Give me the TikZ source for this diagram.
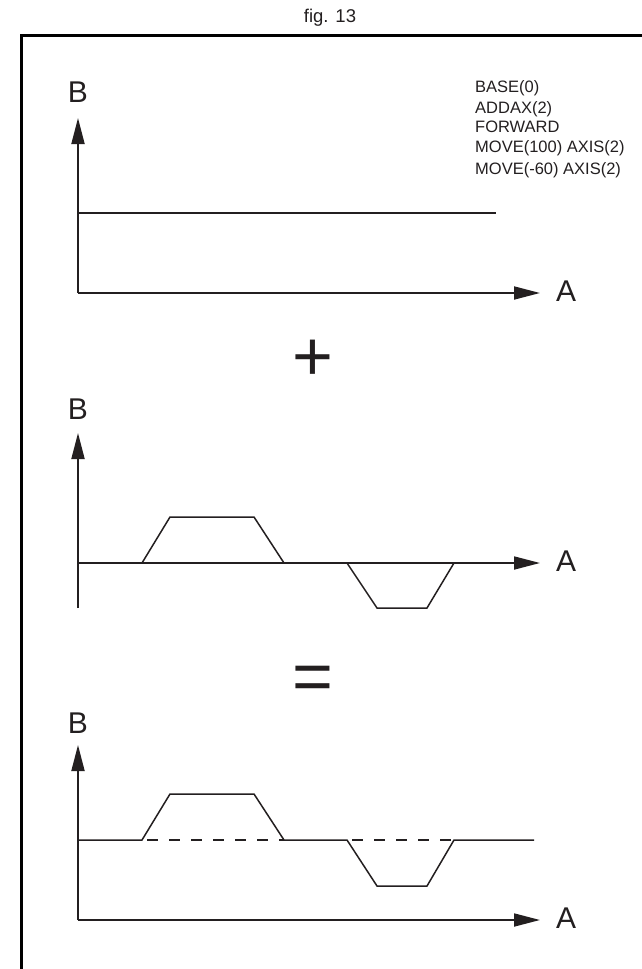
\documentclass[tikz,border=0pt]{standalone}
\usepackage{fontspec}
\setmainfont{Liberation Sans}
\usetikzlibrary{arrows.meta}
\definecolor{ink}{RGB}{35,31,32}
\begin{document}
\begin{tikzpicture}[x=1pt,y=-1pt,
  every node/.style={inner sep=0pt, text=ink},
  axisline/.style={draw=ink, line width=1.8pt, -{Triangle[length=26pt,width=13pt]}},
  curve/.style={draw=ink, line width=1.5pt, line join=miter},
  dashline/.style={draw=ink, line width=1.5pt, dash pattern=on 11pt off 11pt, dash phase=-5pt},
  axlabel/.style={font=\fontsize{30}{30}\selectfont},
  cmdtext/.style={font=\fontsize{16.5}{20}\selectfont, anchor=base west},
  opsign/.style={font=\fontsize{70}{70}\selectfont},
  frameline/.style={draw=black, line width=3pt}]
\useasboundingbox (0,0) rectangle (641,969);

% title and frame
\node (title) at (330,18) {\fontsize{18.5}{18.5}\selectfont fig. 13};
\coordinate (fbl) at (21,975);
\coordinate (ftl) at (21,35);
\coordinate (ftr) at (650,35);
\draw[frameline] (fbl) -- (ftl) -- (ftr);

% ---------- top plot ----------
\coordinate (o1) at (78,293);
\coordinate (y1) at (78,118);
\coordinate (x1) at (540,293);
\draw[axisline] (o1) -- (y1);
\draw[axisline] (o1) -- (x1);
\node[axlabel] (B1) at (78,92) {B};
\node[axlabel] (A1) at (566,291) {A};
\coordinate (h1s) at (78,213);
\coordinate (h1e) at (496,213);
\draw[curve] (h1s) -- (h1e);

\node[cmdtext] (c1) at (475,92) {BASE(0)};
\node[cmdtext] (c2) at (475,113) {ADDAX(2)};
\node[cmdtext] (c3) at (475,132) {FORWARD};
\node[cmdtext] (c4) at (475,152) {MOVE(100) AXIS(2)};
\node[cmdtext] (c5) at (475,174) {MOVE(-60) AXIS(2)};

% plus
\node[opsign] (plus) at (313,360) {+};

% ---------- middle plot ----------
\coordinate (o2) at (78,563);
\coordinate (y2b) at (78,608);
\coordinate (y2) at (78,433);
\coordinate (x2) at (540,563);
\draw[axisline] (y2b) -- (y2);
\draw[axisline] (o2) -- (x2);
\node[axlabel] (B2) at (78,409) {B};
\node[axlabel] (A2) at (566,561) {A};
\coordinate (p1) at (142,563);
\coordinate (p2) at (170,517);
\coordinate (p3) at (254,517);
\coordinate (p4) at (284,563);
\coordinate (q1) at (347,563);
\coordinate (q2) at (377,608);
\coordinate (q3) at (427,608);
\coordinate (q4) at (454,563);
\draw[curve] (p1) -- (p2) -- (p3) -- (p4);
\draw[curve] (q1) -- (q2) -- (q3) -- (q4);

% equals
\node[opsign] (eq) at (313,683) {=};

% ---------- bottom plot ----------
\coordinate (o3) at (78,920);
\coordinate (y3) at (78,745);
\coordinate (x3) at (540,920);
\draw[axisline] (o3) -- (y3);
\draw[axisline] (o3) -- (x3);
\node[axlabel] (B3) at (78,723) {B};
\node[axlabel] (A3) at (566,918) {A};
\coordinate (r0) at (78,840);
\coordinate (r1) at (142,840);
\coordinate (r2) at (170,794);
\coordinate (r3) at (254,794);
\coordinate (r4) at (284,840);
\coordinate (r5) at (347,840);
\coordinate (r6) at (377,886);
\coordinate (r7) at (427,886);
\coordinate (r8) at (454,840);
\coordinate (r9) at (534,840);
\draw[curve] (r0) -- (r1) -- (r2) -- (r3) -- (r4) -- (r5) -- (r6) -- (r7) -- (r8) -- (r9);
\draw[dashline] (r1) -- (r4);
\draw[dashline] (r5) -- (r8);
\end{tikzpicture}
\end{document}
